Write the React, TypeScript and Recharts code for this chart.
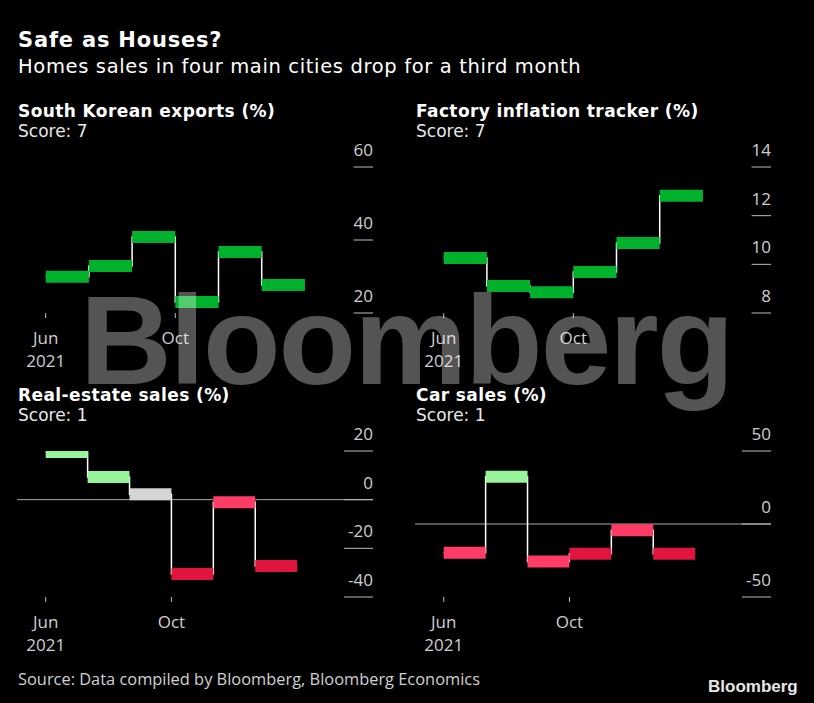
import { LineChart, Line, XAxis, YAxis, ReferenceLine } from 'recharts'

// one value per period, drawn as a step; x = period index
const periods = [0, 1, 2, 3, 4, 5]
const exportValues = [29.9, 32.9, 40.8, 23.0, 36.7, 27.7]
const inflationValues = [10.26, 9.11, 8.85, 9.69, 10.88, 12.82]
const realEstateValues = [19.6, 9.3, 2.2, -30.5, -1.1, -27.3]
const carValues = [-19.7, 32.3, -25.7, -20.4, -4.3, -20.4]

const GREEN = '#00b12c'
const LIGHT_GREEN = '#98f49b'
const GREY = '#d5d5d5'
const PINK = '#ff3c65'
const CRIMSON = '#e1133f'

const exportColors = [GREEN, GREEN, GREEN, GREEN, GREEN, GREEN]
const inflationColors = [GREEN, GREEN, GREEN, GREEN, GREEN, GREEN]
const realEstateColors = [LIGHT_GREEN, LIGHT_GREEN, GREY, CRIMSON, PINK, CRIMSON]
const carColors = [PINK, LIGHT_GREEN, PINK, CRIMSON, PINK, CRIMSON]

const exportTicks = [20, 40, 60]
const inflationTicks = [8, 10, 12, 14]
const realEstateTicks = [-40, -20, 0, 20]
const carTicks = [-50, 0, 50]

const xTickPositions = [0, 3]
const xTickLabels = [['Jun', '2021'], ['Oct']]

const FONT = '"Open Sans", "Noto Sans", sans-serif'
const HEAD_FONT = '"DejaVu Sans", Verdana, sans-serif'
const TICK_COLOR = '#cfcfcf'

interface PanelProps {
  title: string
  score: number
  values: number[]
  colors: string[]
  ticks: number[]
  xDomain: [number, number]
  left: number
  top: number
}

function YTick({ x, y, payload, w }: any) {
  return (
    <g>
      <line x1={x - w} x2={x} y1={y} y2={y} stroke="#bdbdbd" strokeWidth={1} />
      <text x={x} y={y - 11} textAnchor="end" fill={TICK_COLOR} fontSize={17} fontFamily={FONT}>
        {payload.value}
      </text>
    </g>
  )
}

function XTick({ x, y, payload }: any) {
  const idx = xTickPositions.indexOf(payload.value)
  const lines = xTickLabels[idx] || []
  return (
    <text x={x} y={y} textAnchor="middle" fill={TICK_COLOR} fontSize={17} fontFamily={FONT}>
      {lines.map((l, i) => (
        <tspan key={i} x={x} dy={i === 0 ? 24 : 22.7}>{l}</tspan>
      ))}
    </text>
  )
}

function Panel({ title, score, values, colors, ticks, xDomain, left, top }: PanelProps) {
  const last = periods[periods.length - 1]
  const stepData = [
    ...periods.map((p, i) => ({ x: p, v: values[i] })),
    { x: last + 1, v: values[values.length - 1] },
  ]
  const domain: [number, number] = [ticks[0], ticks[ticks.length - 1]]
  const tickW = Math.max(...ticks.map(t => String(t).length)) * 9.7

  return (
    <>
      <svg width={400} height={46} style={{ position: 'absolute', left, top: top - 40 }}>
        <text x={18} y={20} fill="#fff" fontSize={17} fontWeight={700} letterSpacing={0.4} fontFamily={HEAD_FONT}>{title}</text>
        <text x={18} y={39.5} fill="#e8e8e8" fontSize={17} fontFamily={HEAD_FONT}>Score: {score}</text>
      </svg>
      <div style={{ position: 'absolute', left, top }}>
        <LineChart width={400} height={236} margin={{ top: 30, right: 26, bottom: 0, left: 17 }}>
          <XAxis type="number" dataKey="x" domain={xDomain} ticks={xTickPositions} interval={0}
            axisLine={false} tickLine={{ stroke: '#bdbdbd' }} tickSize={5} tickMargin={2}
            height={60} tick={<XTick />} allowDataOverflow />
          <YAxis orientation="right" type="number" domain={domain} ticks={ticks} interval={0}
            width={1} tickSize={0} tickMargin={0} axisLine={false} tickLine={false}
            tick={(p: any) => <YTick {...p} w={tickW} />} allowDataOverflow />
          {domain[0] < 0 && domain[1] > 0 && (
            <ReferenceLine y={0} stroke="#a8a8a8" strokeWidth={1} />
          )}
          <Line data={stepData} dataKey="v" type="stepAfter" stroke="#ffffff" strokeWidth={1.5}
            dot={false} activeDot={false} isAnimationActive={false} />
          {periods.map((p, i) => (
            <Line key={p} data={[{ x: p, v: values[i] }, { x: p + 1, v: values[i] }]} dataKey="v"
              type="linear" stroke={colors[i]} strokeWidth={12} strokeLinecap="butt"
              dot={false} activeDot={false} isAnimationActive={false} />
          ))}
        </LineChart>
      </div>
    </>
  )
}

export default function App() {
  return (
    <div style={{ position: 'absolute', left: 0, top: 0, width: 814, height: 703, background: '#000', overflow: 'hidden', fontFamily: FONT }}>
      <svg width={814} height={703} style={{ position: 'absolute', left: 0, top: 0 }}>
        <text x={18} y={47} fill="#fff" fontSize={21} fontWeight={700} letterSpacing={0.8} fontFamily={HEAD_FONT}>Safe as Houses?</text>
        <text x={18} y={73} fill="#fff" fontSize={19.5} letterSpacing={0.65} fontFamily={HEAD_FONT}>Homes sales in four main cities drop for a third month</text>
        <text x={18} y={685} fill="#d0d0d0" fontSize={16.4} fontFamily={FONT}>Source: Data compiled by Bloomberg, Bloomberg Economics</text>
        <text x={708} y={692} fill="#e6e6e6" fontSize={17} fontWeight={700} fontFamily='"Liberation Sans", Arial, sans-serif'>Bloomberg</text>
      </svg>

      <Panel title="South Korean exports (%)" score={7} values={exportValues} colors={exportColors}
        ticks={exportTicks} xDomain={[-0.664, 7.576]} left={0} top={137} />
      <Panel title="Factory inflation tracker (%)" score={7} values={inflationValues} colors={inflationColors}
        ticks={inflationTicks} xDomain={[-0.664, 7.576]} left={398} top={137} />
      <Panel title="Real-estate sales (%)" score={1} values={realEstateValues} colors={realEstateColors}
        ticks={realEstateTicks} xDomain={[-0.685, 7.81]} left={0} top={421} />
      <Panel title="Car sales (%)" score={1} values={carValues} colors={carColors}
        ticks={carTicks} xDomain={[-0.685, 7.81]} left={398} top={421} />

      <svg width={814} height={703} style={{ position: 'absolute', left: 0, top: 0, pointerEvents: 'none' }}>
        <text x={80} y={384} fill="rgba(255,255,255,0.33)" fontSize={127} fontWeight={700} letterSpacing={-2}
          fontFamily='"Liberation Sans", Arial, sans-serif'>Bloomberg</text>
      </svg>
    </div>
  )
}
